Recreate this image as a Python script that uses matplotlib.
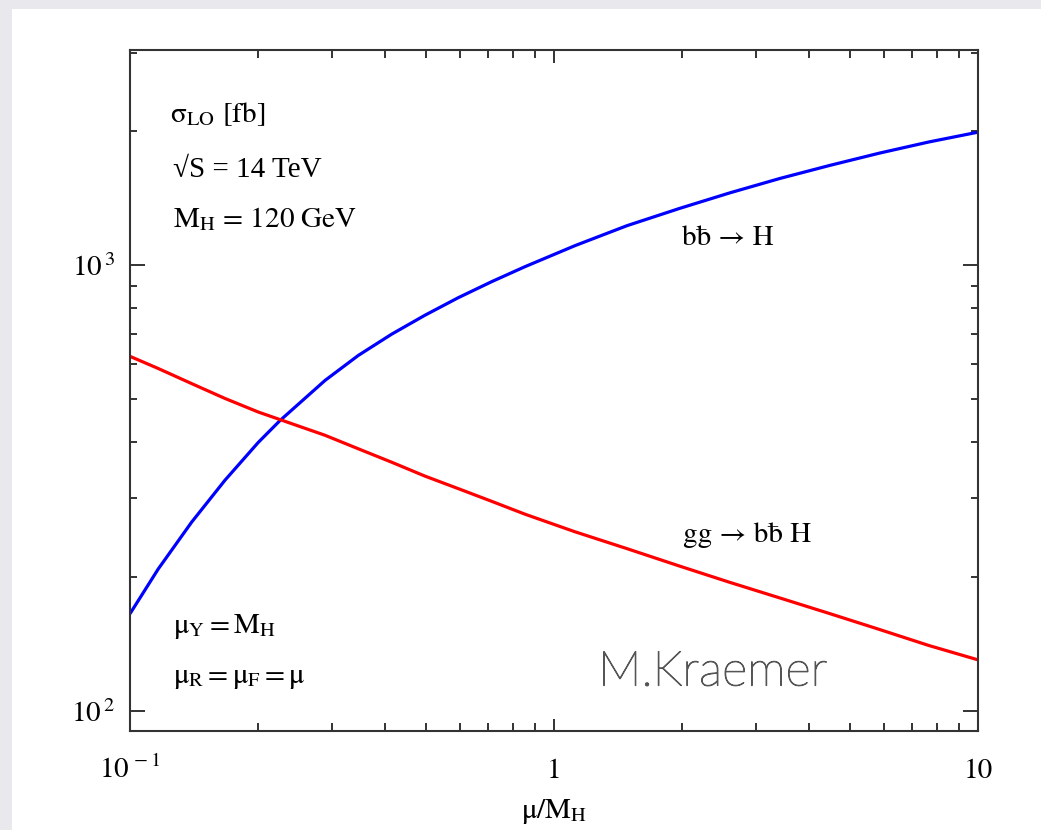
#!/usr/bin/env python3
"""
LO cross sections for bb -> H and gg -> bbH versus mu/M_H.
"""

import matplotlib.pyplot as plt
import matplotlib.patheffects as pe
from matplotlib.patches import Rectangle
from matplotlib.ticker import FixedLocator, NullFormatter, LogLocator
import matplotlib.transforms as mtransforms

plt.rcParams["font.family"] = ["STIXGeneral", "Liberation Serif", "DejaVu Serif"]
plt.rcParams["mathtext.fontset"] = "stix"
plt.rcParams["mathtext.default"] = "regular"

# ─── data ───
mu = [0.100, 0.1166, 0.1398, 0.1675, 0.2007, 0.2259, 0.2884, 0.3455,
      0.4143, 0.4964, 0.5945, 0.7128, 0.8543, 1.121, 1.486, 1.98,
      2.60, 3.41, 4.48, 5.87, 7.66, 10.0]
sigma_bbh = [165, 208, 265, 329, 400, 448, 551, 627,
             700, 772, 845, 918, 992, 1106, 1226, 1341,
             1453, 1565, 1675, 1785, 1890, 1988]
sigma_ggbbh = [624, 586, 542, 502, 468, 450, 415, 387,
               361, 336, 315, 295, 276, 252, 231, 211,
               194, 179, 165, 152, 140, 130]

xticks = [0.1, 1, 10]
xtick_labels = [r"$10^{\,-1}$", "1", "10"]
yticks = [100, 1000]
ytick_labels = [r"$10^{\,2}$", r"$10^{\,3}$"]

fig = plt.figure(figsize=(10.41, 8.30), dpi=100)
fig.patch.set_facecolor("#e9e9ed")
fig.patches.append(Rectangle((12 / 1041, 0), 1 - 12 / 1041, 1 - 9 / 830,
                             transform=fig.transFigure, facecolor="white",
                             edgecolor="none", zorder=-5))

ax = fig.add_axes([130 / 1041, 1 - 731 / 830, 848 / 1041, 681 / 830])
ax.set_facecolor("white")
ax.set_xscale("log")
ax.set_yscale("log")
ax.set_xlim(0.1, 10)
ax.set_ylim(90, 3040)

ax.plot(mu, sigma_bbh, color="#0000ff", lw=2.3, solid_capstyle="butt")
ax.plot(mu, sigma_ggbbh, color="#ff0000", lw=2.3, solid_capstyle="butt")

for s in ax.spines.values():
    s.set_linewidth(1.5)
    s.set_color("#333333")

ax.xaxis.set_major_locator(FixedLocator(xticks))
ax.yaxis.set_major_locator(FixedLocator(yticks))
ax.xaxis.set_minor_locator(LogLocator(base=10, subs=range(2, 10)))
ax.yaxis.set_minor_locator(LogLocator(base=10, subs=range(2, 10)))
ax.xaxis.set_major_formatter(NullFormatter())
ax.yaxis.set_major_formatter(NullFormatter())
ax.xaxis.set_minor_formatter(NullFormatter())
ax.yaxis.set_minor_formatter(NullFormatter())
ax.tick_params(which="both", direction="in", top=True, right=True,
               color="#333333", width=1.4)
ax.tick_params(axis="x", which="major", length=9)
ax.tick_params(axis="x", which="minor", length=6)
ax.tick_params(axis="y", which="major", length=11)
ax.tick_params(axis="y", which="minor", length=5)

# tick labels, placed on their baselines
xtr = mtransforms.offset_copy(ax.get_xaxis_transform(), fig=fig, x=0, y=-47, units="dots")
for xv, lab in zip(xticks, xtick_labels):
    ax.text(xv, 0, lab, transform=xtr, ha="center", va="baseline", fontsize=21)
ytr = mtransforms.offset_copy(ax.get_yaxis_transform(), fig=fig, x=-15, y=-11, units="dots")
for yv, lab in zip(yticks, ytick_labels):
    ax.text(0, yv, lab, transform=ytr, ha="right", va="baseline", fontsize=21)

ax.text(0.5, -0.128, r"$\mu/M_H$", transform=ax.transAxes, ha="center",
        va="baseline", fontsize=21)

# annotations
kw = dict(transform=ax.transAxes, ha="left", va="baseline", fontsize=21)
ax.text(0.047, 0.894, r"$\sigma_{LO}$ [fb]", **kw)
ax.text(0.051, 0.8135, "\u221aS = 14 TeV", transform=ax.transAxes, ha="left",
        va="baseline", fontsize=21, family=["Liberation Serif", "DejaVu Serif"])
ax.text(0.051, 0.740, r"$M_H$ = 120 GeV", **kw)
ax.text(0.051, 0.144, r"$\mu_Y = M_H$", **kw)
ax.text(0.051, 0.0705, r"$\mu_R = \mu_F = \mu$", **kw)
ax.text(0.651, 0.7137, "b\u0180 \u2192 H", **kw)
ax.text(0.652, 0.2775, "gg \u2192 b\u0180 H", **kw)

ax.text(0.552, 0.0866, "M.Kraemer", transform=ax.transAxes, ha="left",
        va="center", fontsize=35, color="#555555",
        family=["Lato", "DejaVu Sans"], fontweight="light",
        path_effects=[pe.withStroke(linewidth=0.8, foreground="#555555")])

plt.savefig("out.png", dpi=100, facecolor=fig.get_facecolor())
plt.close()
